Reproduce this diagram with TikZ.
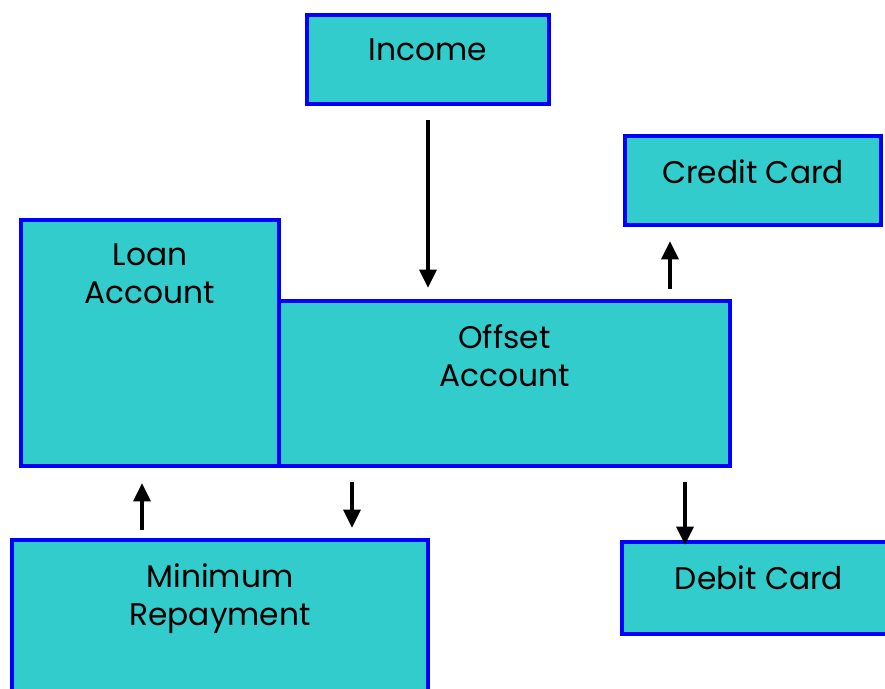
\documentclass[tikz,border=0pt]{standalone}
\usepackage{fontspec}
\setmainfont{Poppins}
\usetikzlibrary{
    arrows.meta,
    positioning
}
\definecolor{boxfill}{RGB}{51,204,204}
\definecolor{boxline}{RGB}{0,0,255}

\begin{document}
\begin{tikzpicture}[
    font=\fontsize{17.8}{21.6}\selectfont,
    account/.style={
        rectangle,
        draw=boxline,
        line width=2.6pt,
        fill=boxfill
    },
    boxtext/.style={
        anchor=north,
        align=center,
        inner sep=0pt,
        yshift=-0.52cm
    },
    arrow/.style={
        -{Triangle[length=3.6mm,width=3.4mm]},
        line width=1.8pt,
        draw=black
    }
]
\useasboundingbox (0,0) rectangle (17.7,13.78);

% =========================================================
% Accounts
% =========================================================
\node[account, minimum width=4.84cm, minimum height=1.78cm,
    label={[boxtext]north:Income}] (income) at (8.56,12.59) {};

\node[account, minimum width=5.12cm, minimum height=1.78cm,
    label={[boxtext]north:Credit Card}] (credit) at (15.06,10.17) {};

\node[account, minimum width=5.16cm, minimum height=4.92cm,
    label={[boxtext]north:Loan\\Account}] (loan) at (3.0,6.92) {};

\node[account, minimum width=9.02cm, minimum height=3.3cm,
    label={[boxtext]north:Offset\\Account}] (offset) at (10.09,6.11) {};

\node[account, minimum width=8.32cm, minimum height=3.6cm,
    label={[boxtext]north:Minimum\\Repayment}] (minpay) at (4.4,1.18) {};

\node[account, minimum width=5.48cm, minimum height=1.84cm,
    label={[boxtext]north:Debit Card}] (debit) at (15.18,2.02) {};

% =========================================================
% Money flows
% =========================================================
\draw[arrow, shorten <=0.28cm, shorten >=0.22cm]
    (income.south) -- (income.south |- offset.north);
\draw[arrow, shorten <=0.2cm, shorten >=0.28cm]
    ([xshift=-1.66cm]credit.south |- offset.north) -- ([xshift=-1.66cm]credit.south);
\draw[arrow, shorten <=0.16cm, shorten >=0.3cm]
    ([xshift=-0.16cm]loan.south |- minpay.north) -- ([xshift=-0.16cm]loan.south);
\draw[arrow, shorten <=0.28cm, shorten >=0.2cm]
    ([xshift=2.64cm]minpay.north |- offset.south) -- ([xshift=2.64cm]minpay.north);
\draw[arrow, shorten <=0.28cm, shorten >=-0.1cm]
    ([xshift=-1.48cm]debit.north |- offset.south) -- ([xshift=-1.48cm]debit.north);

\end{tikzpicture}
\end{document}
